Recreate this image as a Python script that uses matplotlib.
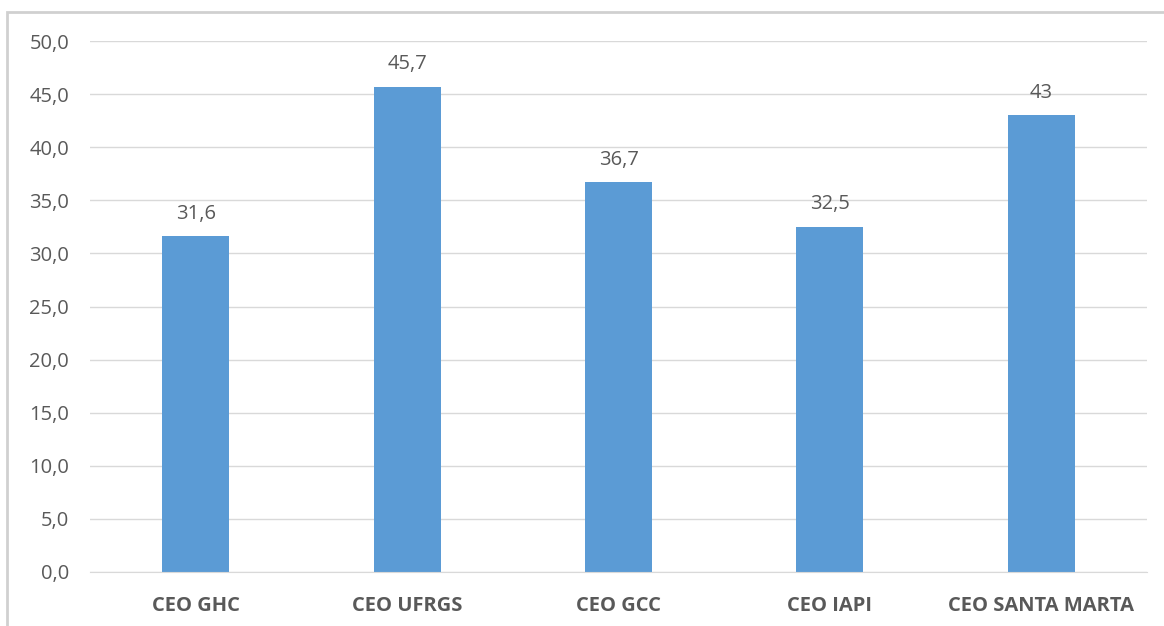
import matplotlib.pyplot as plt
from matplotlib.patches import Rectangle
import numpy as np

categories = ["CEO GHC", "CEO UFRGS", "CEO GCC", "CEO IAPI", "CEO SANTA MARTA"]
values = [31.6, 45.7, 36.7, 32.5, 43.0]
value_labels = ["31,6", "45,7", "36,7", "32,5", "43"]
yticks = np.arange(0, 55, 5)

plt.rcParams['font.family'] = ['Open Sans', 'DejaVu Sans']
text_col = '#595959'

fig = plt.figure(figsize=(11.64, 6.26), dpi=100)
ax = fig.add_axes([90 / 1164, 54 / 626, 1057 / 1164, 531 / 626])

x = np.arange(len(categories))
bars = ax.bar(x, values, width=0.317, color='#5B9BD5', zorder=3)

for xi, v, lab in zip(x, values, value_labels):
    ax.annotate(lab, (xi, v), xytext=(0, 9), textcoords='offset points',
                ha='center', va='bottom', fontsize=14.5, color=text_col, zorder=4)

ax.set_xlim(-0.5, len(categories) - 0.5)
ax.set_ylim(0, 50)
ax.set_yticks(yticks)
ax.set_yticklabels([f"{t:.1f}".replace('.', ',') for t in yticks],
                   fontsize=14.5, color=text_col)
ax.set_xticks(x)
ax.set_xticklabels(categories, fontsize=14.5, fontweight='bold', color=text_col)
ax.tick_params(axis='both', length=0)
ax.tick_params(axis='y', pad=15)
ax.tick_params(axis='x', pad=17)

ax.grid(axis='y', color='#D9D9D9', linewidth=1, zorder=0)
for s in ['top', 'right', 'left']:
    ax.spines[s].set_visible(False)
ax.spines['bottom'].set_color('#D9D9D9')
ax.spines['bottom'].set_zorder(3)

# outer chart border
fig.patches.append(Rectangle((7 / 1164, -0.1), 1.2, (626 - 12) / 626 + 0.1,
                             transform=fig.transFigure, fill=False,
                             edgecolor='#D0D0D0', linewidth=2))

fig.savefig('out.png', dpi=100)
